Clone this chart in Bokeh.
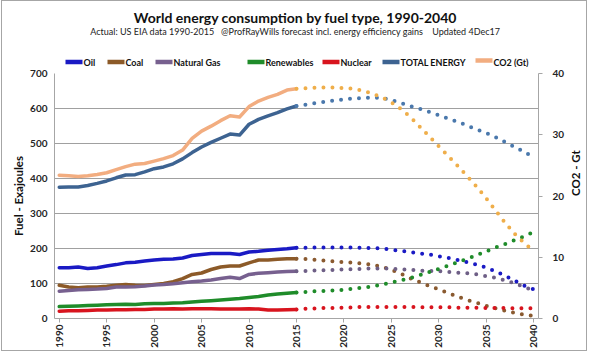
import math
from bokeh.plotting import figure
from bokeh.layouts import column
from bokeh.models import Range1d, LinearAxis, FixedTicker, Label, ColumnDataSource
from bokeh.core.properties import value
from bokeh.embed import file_html
from bokeh.resources import INLINE

# ---------------- data ----------------
years_hist = [1990, 1991, 1992, 1993, 1994, 1995, 1996, 1997, 1998, 1999,
              2000, 2001, 2002, 2003, 2004, 2005, 2006, 2007, 2008, 2009,
              2010, 2011, 2012, 2013, 2014, 2015]
years_fc = [2015, 2016, 2017, 2018, 2019, 2020, 2021, 2022, 2023, 2024,
            2025, 2026, 2027, 2028, 2029, 2030, 2031, 2032, 2033, 2034,
            2035, 2036, 2037, 2038, 2039, 2040]

# Exajoules, actual
oil_hist = [145, 145, 147, 143, 145, 150, 154, 159, 161, 164, 167, 169, 170, 173, 180,
            183, 186, 186, 186, 183, 190, 192, 195, 197, 199, 202]
coal_hist = [95, 90, 88, 90, 90, 92, 95, 97, 95, 94, 97, 100, 105, 114, 126,
             130, 140, 147, 150, 150, 159, 167, 167, 169, 171, 171]
gas_hist = [78, 80, 82, 83, 84, 86, 90, 90, 91, 93, 96, 97, 99, 102, 105,
            107, 110, 114, 118, 114, 126, 129, 131, 133, 134, 135]
ren_hist = [34, 35, 36, 37, 38, 39, 40, 41, 40, 42, 43, 43, 44, 45, 47,
            49, 51, 53, 55, 57, 60, 63, 67, 70, 72, 74]
nuc_hist = [21, 22, 22, 23, 24, 24, 25, 25, 26, 26, 27, 27, 28, 27, 28,
            28, 28, 27, 27, 27, 28, 27, 24, 24, 25, 26]
total_hist = [375, 376, 376, 380, 386, 393, 402, 410, 411, 419, 428, 433, 442, 456, 474,
              490, 503, 515, 527, 524, 555, 569, 579, 588, 599, 607]
# Gt CO2, actual
co2_hist = [23.4, 23.3, 23.2, 23.3, 23.5, 23.8, 24.3, 24.8, 25.2, 25.3, 25.7, 26.1, 26.6,
            27.5, 29.4, 30.6, 31.4, 32.3, 33.1, 32.9, 34.6, 35.5, 36.1, 36.6, 37.3, 37.5]

# forecast (2015-2040)
oil_fc = [202, 202, 203, 203, 203, 203, 203, 202, 201, 200, 197, 193, 190, 186, 183,
          178, 173, 167, 161, 154, 145, 134, 122, 108, 94, 83]
coal_fc = [171, 170, 168, 165, 163, 161, 159, 157, 154, 148, 139, 128, 115, 104, 93,
           83, 73, 62, 53, 45, 36, 29, 22, 16, 11, 7]
gas_fc = [135, 136, 137, 138, 139, 140, 141, 142, 143, 143, 142, 141, 139, 137, 136,
          135, 133, 131, 129, 126, 121, 116, 109, 100, 90, 80]
ren_fc = [74, 76, 78, 79, 80, 82, 85, 88, 91, 97, 103, 109, 116, 124, 133,
          142, 151, 161, 171, 181, 192, 203, 213, 224, 235, 247]
nuc_fc = [26, 28, 29, 30, 30, 31, 32, 33, 33, 33, 33, 33, 33, 32, 32,
          32, 32, 31, 31, 31, 30, 30, 30, 29, 29, 29]
total_fc = [607, 611, 616, 619, 623, 626, 629, 630, 632, 630, 624, 616, 607, 599, 590,
            581, 571, 562, 551, 540, 530, 518, 504, 490, 476, 460]
co2_fc = [37.5, 37.6, 37.7, 37.7, 37.7, 37.6, 37.5, 37.2, 36.7, 36.1, 35.3, 34.2, 32.9,
          31.3, 29.7, 28.1, 26.5, 24.9, 23.2, 21.5, 19.6, 17.6, 15.6, 13.8, 12.3, 11.0]

x_ticks = [1990, 1995, 2000, 2005, 2010, 2015, 2020, 2025, 2030, 2035, 2040]
left_ticks = [0, 100, 200, 300, 400, 500, 600, 700]
right_ticks = [0, 10, 20, 30, 40]

series_names = ["Oil", "Coal", "Natural Gas", "Renewables", "Nuclear", "TOTAL ENERGY", "CO2 (Gt)"]

title_text = "World energy consumption by fuel type, 1990-2040"
subtitle_text = ("Actual: US EIA data 1990-2015 \u00a0 @ProfRayWills forecast incl. "
                 "energy efficiency gains \u00a0 \u00a0Updated 4Dec17")

FONT = "Lato"
solid_colors = ["#1a1ac4", "#8c5a28", "#77608f", "#1f8c2a", "#d8141e", "#3d6391", "#f2ad80"]
dot_colors = ["#1a1ac4", "#8a5a30", "#6e5f86", "#1f8c2a", "#d8141e", "#4a78ac", "#efae4a"]

HEADER_H = 67
BL, BR = 54, 52          # left / right borders shared by both figures
FW = 484                 # frame width shared by both figures

# ---------------- header (title, subtitle, legend) ----------------
# frame coordinates equal page pixels: x from BL to BL+FW, y from top
hdr = figure(frame_width=FW, frame_height=HEADER_H,
             x_range=Range1d(BL, BL + FW), y_range=Range1d(HEADER_H, 0),
             output_backend="svg", toolbar_location=None, x_axis_type=None, y_axis_type=None,
             min_border_left=BL, min_border_right=BR, min_border_top=0, min_border_bottom=0)
hdr.outline_line_color = None
hdr.xgrid.visible = False
hdr.ygrid.visible = False
hdr.background_fill_color = "white"
hdr.border_fill_color = "white"

hdr.add_layout(Label(x=295, y=17, text=title_text,
                     text_align="center", text_baseline="middle", text_font=FONT,
                     text_font_style="bold", text_font_size="14px", text_color="#111111"))
hdr.add_layout(Label(x=295, y=31, text=subtitle_text,
                     text_align="center", text_baseline="middle", text_font=FONT,
                     text_font_size="9px", text_color="#222222"))

# legend swatches and labels (header pixel layout)
leg_x0 = [65, 107, 155, 247, 322, 382, 475]
leg_len = 17
leg_y = [61.5, 61.5, 61.5, 61.5, 61.5, 61.5, 60]
leg_ty = [61.5, 61.5, 61.5, 61.5, 61.5, 61.5, 61.5]
leg = ColumnDataSource(dict(
    x0=leg_x0, x1=[x + leg_len for x in leg_x0], y=leg_y,
    tx=[x + leg_len + 1 for x in leg_x0], ty=leg_ty,
    name=series_names, color=solid_colors))
hdr.segment(x0="x0", y0="y", x1="x1", y1="y", line_color="color", line_width=4.5,
            line_cap="butt", source=leg)
hdr.text(x="tx", y="ty", text="name", source=leg, text_font=value(FONT),
         text_font_style="bold", text_font_size="9px", text_color="#111111",
         text_baseline="middle", text_align="left")

# ---------------- main figure ----------------
p = figure(frame_width=FW, frame_height=245,
           x_range=Range1d(1989.5, 2040.5), y_range=Range1d(0, 700),
           output_backend="svg", toolbar_location=None,
           min_border_left=BL, min_border_right=BR, min_border_top=73 - HEADER_H,
           min_border_bottom=34)
p.extra_y_ranges = {"co2": Range1d(0, 40)}
p.outline_line_color = None
p.background_fill_color = "white"
p.border_fill_color = "white"

p.xgrid.visible = False
p.ygrid.ticker = FixedTicker(ticks=left_ticks)
p.ygrid.grid_line_color = "#a0a0a0"
p.ygrid.grid_line_width = 1

ax_col = "#a6a6a6"
lab_col = "#262626"

xa = p.xaxis[0]
xa.ticker = FixedTicker(ticks=x_ticks)
xa.major_label_orientation = math.pi / 2
xa.axis_line_color = ax_col
xa.major_tick_line_color = ax_col
xa.major_tick_in = 0
xa.major_tick_out = 4
xa.minor_tick_line_color = None
xa.major_label_standoff = 2
xa.major_label_text_font = FONT
xa.major_label_text_font_style = "bold"
xa.major_label_text_font_size = "10px"
xa.major_label_text_color = lab_col

ya = p.yaxis[0]
ya.ticker = FixedTicker(ticks=left_ticks)
ya.axis_line_color = ax_col
ya.major_tick_line_color = None
ya.major_tick_in = 0
ya.major_tick_out = 0
ya.minor_tick_line_color = None
ya.major_label_standoff = 7
ya.major_label_text_font = FONT
ya.major_label_text_font_style = "bold"
ya.major_label_text_font_size = "10px"
ya.major_label_text_color = lab_col
ya.axis_label = "Fuel - Exajoules"
ya.axis_label_text_font = FONT
ya.axis_label_text_font_style = "bold"
ya.axis_label_text_font_size = "11.5px"
ya.axis_label_text_color = "#111111"
ya.axis_label_standoff = 2

ra = LinearAxis(y_range_name="co2", ticker=FixedTicker(ticks=right_ticks))
ra.axis_line_color = ax_col
ra.major_tick_line_color = ax_col
ra.major_tick_in = 0
ra.major_tick_out = 4
ra.minor_tick_line_color = None
ra.major_label_standoff = 10
ra.major_label_text_font = FONT
ra.major_label_text_font_style = "bold"
ra.major_label_text_font_size = "10px"
ra.major_label_text_color = lab_col
ra.axis_label = "CO2 - Gt"
ra.axis_label_orientation = math.pi / 2
ra.axis_label_text_font = FONT
ra.axis_label_text_font_style = "bold"
ra.axis_label_text_font_size = "11.5px"
ra.axis_label_text_color = "#111111"
ra.axis_label_standoff = 8
p.add_layout(ra, "right")

# ---------------- series ----------------
hist_data = [oil_hist, coal_hist, gas_hist, ren_hist, nuc_hist, total_hist, co2_hist]
fc_data = [oil_fc, coal_fc, gas_fc, ren_fc, nuc_fc, total_fc, co2_fc]
ranges = [None, None, None, None, None, None, "co2"]

for hist, fc, c_solid, c_dot, rng in zip(hist_data, fc_data, solid_colors, dot_colors, ranges):
    kw = {}
    if rng:
        kw["y_range_name"] = rng
    p.line(years_hist, hist, line_color=c_solid, line_width=3.5,
           line_join="round", line_cap="round", **kw)
    p.line(years_fc, fc, line_color=c_dot, line_width=4, line_dash="0 9",
           line_cap="round", **kw)

border_css = (":host::after { content: ''; position: absolute; left: 1px; top: 0px; "
              "width: 584px; height: 349px; border: 1px solid #a6a6a6; "
              "pointer-events: none; z-index: 100; }")
layout = column(hdr, p, spacing=0, stylesheets=[border_css])

open("out.html", "w").write(file_html(layout, INLINE))
